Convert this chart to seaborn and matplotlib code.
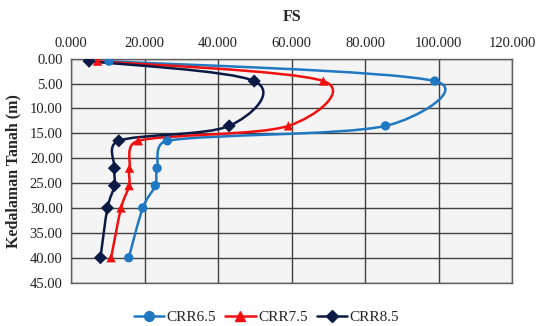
import numpy as np
import pandas as pd
import seaborn as sns
import matplotlib
matplotlib.use("Agg")
import matplotlib.pyplot as plt
from matplotlib.path import Path
from matplotlib.patches import PathPatch
from matplotlib.lines import Line2D

# ---- data ----
depth = [0.5, 4.5, 13.5, 16.5, 22.0, 25.5, 30.0, 40.0]
fs_crr65 = [10.3, 98.9, 85.5, 26.2, 23.4, 22.9, 19.5, 15.7]
fs_crr75 = [7.2, 68.6, 59.1, 18.3, 15.9, 15.8, 13.6, 10.9]
fs_crr85 = [4.9, 49.8, 43.0, 13.0, 11.8, 11.8, 9.9, 8.0]
series_names = ["CRR6.5", "CRR7.5", "CRR8.5"]
x_ticks = [0, 20, 40, 60, 80, 100, 120]
y_ticks = [0, 5, 10, 15, 20, 25, 30, 35, 40, 45]

colors = {"CRR6.5": "#1f78c1", "CRR7.5": "#f01010", "CRR8.5": "#0b1a45"}
markers = {"CRR6.5": "o", "CRR7.5": "^", "CRR8.5": "D"}
msizes = {"CRR6.5": 7, "CRR7.5": 7, "CRR8.5": 6}

rows = []
for name, vals in zip(series_names, [fs_crr65, fs_crr75, fs_crr85]):
    for d, v in zip(depth, vals):
        rows.append({"series": name, "depth": d, "FS": v})
df = pd.DataFrame(rows)

sns.set_style("white")
plt.rcParams["font.family"] = ["Liberation Serif", "DejaVu Serif"]

fig = plt.figure(figsize=(5.36, 3.26), dpi=100)
ax = fig.add_axes([0.1325, 0.133, 0.8235, 0.687])
ax.set_facecolor("#f4f4f4")
ax.set_xlim(0, 120)
ax.set_ylim(45, 0)


def smooth_path(xs, ys):
    # Excel-style smoothed line (Bezier, tangents limited), computed in display space
    pts = ax.transData.transform(np.column_stack([xs, ys]).astype(float))
    n = len(pts)
    verts = [pts[0]]
    codes = [Path.MOVETO]
    for i in range(n - 1):
        p0 = pts[i - 1] if i > 0 else pts[i]
        p1 = pts[i]
        p2 = pts[i + 1]
        p3 = pts[i + 2] if i + 2 < n else pts[i + 1]
        d02 = np.linalg.norm(p2 - p0)
        d12 = np.linalg.norm(p2 - p1)
        d13 = np.linalg.norm(p3 - p1)
        f1 = 1 / 6.0
        f2 = 1 / 6.0
        if d02 / 6.0 >= d12 / 2.0 and d02 > 0:
            f1 = d12 / d02 / 2.0
        if d13 / 6.0 >= d12 / 2.0 and d13 > 0:
            f2 = d12 / d13 / 2.0
        c1 = p1 + (p2 - p0) * f1
        c2 = p2 - (p3 - p1) * f2
        verts += [c1, c2, p2]
        codes += [Path.CURVE4] * 3
    verts = ax.transData.inverted().transform(np.array(verts))
    return Path(verts, codes)


for name in series_names:
    sub = df[df.series == name]
    patch = PathPatch(smooth_path(sub["FS"].values, sub["depth"].values),
                      facecolor="none", edgecolor=colors[name], lw=1.8, zorder=3)
    ax.add_patch(patch)

sns.scatterplot(data=df, x="FS", y="depth", hue="series", style="series",
                palette=colors, markers=markers, s=45, edgecolor="none",
                legend=False, ax=ax, zorder=4)

ax.set_xlim(0, 120)
ax.set_ylim(45, 0)
ax.set_xticks(x_ticks)
ax.set_xticklabels([f"{v:.3f}" for v in x_ticks])
ax.set_yticks(y_ticks)
ax.set_yticklabels([f"{v:.2f}" for v in y_ticks])
ax.xaxis.tick_top()
ax.xaxis.set_label_position("top")
ax.tick_params(axis="both", labelsize=10.5, length=0, pad=6, colors="#222222")
ax.grid(True, color="#404040", lw=1.0)
ax.set_axisbelow(True)
for sp in ax.spines.values():
    sp.set_color("#606060")
    sp.set_linewidth(1.0)

ax.set_xlabel("FS", fontsize=11.5, fontweight="bold", labelpad=12)
ax.set_ylabel("Kedalaman Tanah (m)", fontsize=11.5, fontweight="bold", labelpad=6)

handles = [Line2D([0], [0], color=colors[n], marker=markers[n], lw=1.8,
                  markersize=msizes[n]) for n in series_names]
fig.legend(handles, series_names, loc="center", bbox_to_anchor=(0.497, 0.027),
           ncol=3, frameon=False, fontsize=11, handlelength=2.0,
           handletextpad=0.15, columnspacing=0.6)

fig.savefig("out.png", dpi=100)
